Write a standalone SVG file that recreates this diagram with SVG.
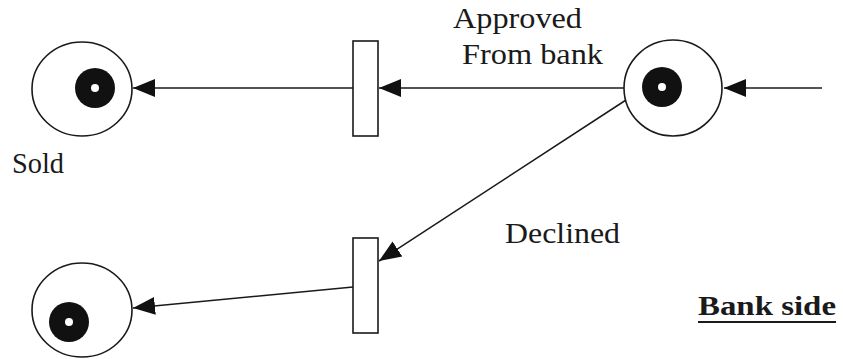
<svg xmlns="http://www.w3.org/2000/svg" width="843" height="359" viewBox="0 0 843 359">
  <style>
    .place { fill: #fff; stroke: #1a1a1a; stroke-width: 1.6; }
    .trans { fill: #fff; stroke: #1a1a1a; stroke-width: 1.6; }
    .token { fill: #111; }
    .hole { fill: #fff; }
    .arc { fill: none; stroke: #1a1a1a; stroke-width: 1.5; }
    .lbl { font-family: "Liberation Serif", "Times New Roman", serif; font-size: 29px; fill: #1a1a1a; }
    .sold { font-size: 30px; }
    .bold { font-weight: bold; font-size: 27px; }
  </style>
  <defs>
    <marker id="arrow" markerWidth="22" markerHeight="20" refX="22" refY="10" orient="auto" markerUnits="userSpaceOnUse">
      <path d="M0,1 L22,10 L0,19 Z" fill="#111"/>
    </marker>
  </defs>

  <!-- arcs -->
  <g id="connectors">
    <line class="arc" x1="822" y1="88" x2="724" y2="88" marker-end="url(#arrow)"/>
    <line class="arc" x1="624" y1="88" x2="379" y2="88" marker-end="url(#arrow)"/>
    <line class="arc" x1="353" y1="88" x2="133" y2="88" marker-end="url(#arrow)"/>
    <line class="arc" x1="626" y1="100" x2="379" y2="261" marker-end="url(#arrow)"/>
    <line class="arc" x1="353" y1="287" x2="133" y2="308" marker-end="url(#arrow)"/>
  </g>

  <!-- bank place -->
  <g id="place-bank">
    <ellipse class="place" cx="673" cy="88" rx="49" ry="48"/>
    <circle class="token" cx="662" cy="87" r="20"/>
    <circle class="hole" cx="662" cy="87" r="4"/>
  </g>

  <!-- approved transition -->
  <g id="trans-approved">
    <rect class="trans" x="353" y="41" width="25" height="95"/>
  </g>

  <!-- declined transition -->
  <g id="trans-declined">
    <rect class="trans" x="353" y="238" width="25" height="95"/>
  </g>

  <!-- sold place -->
  <g id="place-sold">
    <ellipse class="place" cx="82" cy="89" rx="50" ry="47"/>
    <circle class="token" cx="95" cy="88" r="20"/>
    <circle class="hole" cx="95" cy="88" r="4"/>
  </g>

  <!-- declined place -->
  <g id="place-declined">
    <ellipse class="place" cx="82" cy="310" rx="50" ry="47"/>
    <circle class="token" cx="69" cy="322" r="20"/>
    <circle class="hole" cx="69" cy="322" r="4"/>
  </g>

  <!-- labels -->
  <g id="labels">
    <text class="lbl" x="453" y="28" textLength="129" lengthAdjust="spacingAndGlyphs">Approved</text>
    <text class="lbl" x="462" y="64" textLength="141" lengthAdjust="spacingAndGlyphs">From bank</text>
    <text class="lbl sold" x="12" y="173" textLength="52" lengthAdjust="spacingAndGlyphs">Sold</text>
    <text class="lbl" x="505" y="243" textLength="115" lengthAdjust="spacingAndGlyphs">Declined</text>
    <text class="lbl bold" x="698" y="315" textLength="138" lengthAdjust="spacingAndGlyphs">Bank side</text>
    <line x1="698" y1="322" x2="836" y2="322" stroke="#1a1a1a" stroke-width="2"/>
  </g>
</svg>
